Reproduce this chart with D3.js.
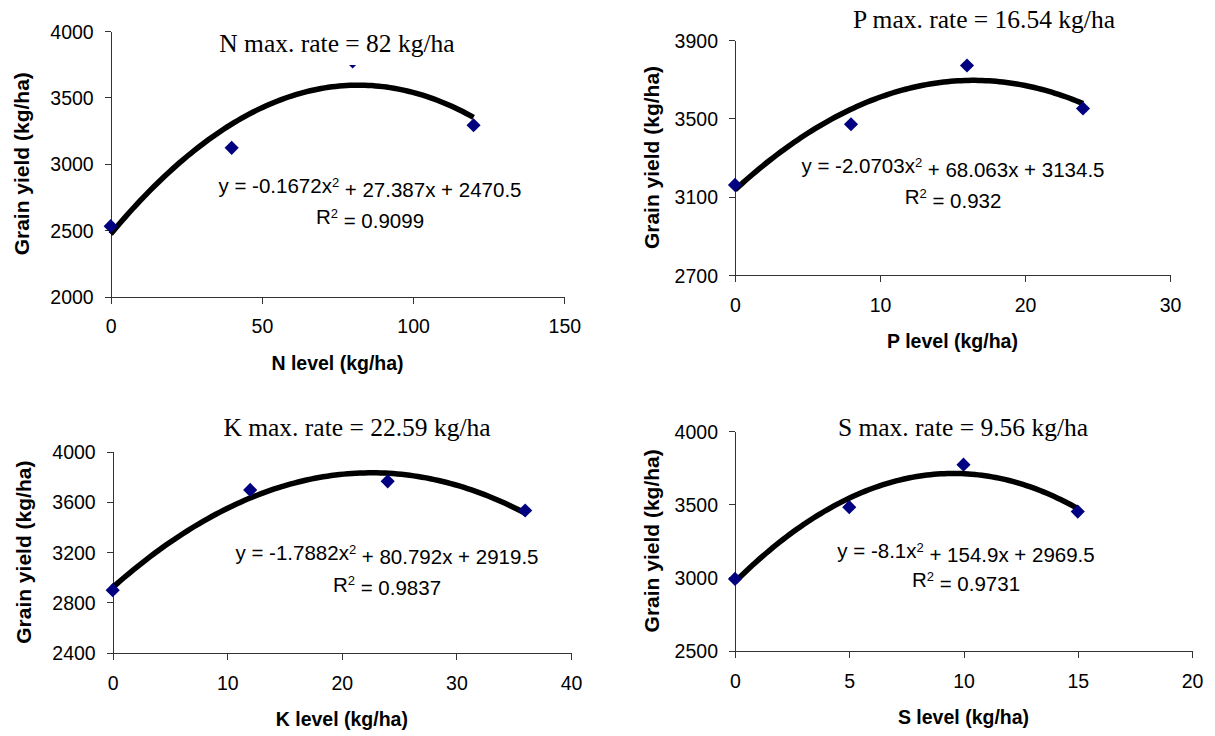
<!DOCTYPE html>
<html>
<head>
<meta charset="utf-8">
<script src="https://cdn.jsdelivr.net/npm/d3@7"></script>
<style>
  body { margin: 0; background: #fff; }
  svg text { fill: #000; }
  .tick text { font-family: "Liberation Sans", Arial, sans-serif; font-size: 19.5px; }
  .domain, .tick line { stroke: #333; stroke-width: 1px; shape-rendering: crispEdges; }
</style>
</head>
<body>
<svg id="chart" width="1215" height="736"></svg>
<script>
// yield response data (kg/ha)
var nLevels = [0, 40, 80, 120];
var nYield = [2530, 3120, 3770, 3290];
var pLevels = [0, 8, 16, 24];
var pYield = [3160, 3470, 3770, 3550];
var kLevels = [0, 12, 24, 36];
var kYield = [2898, 3696, 3764, 3532];
var sLevels = [0, 5, 10, 15];
var sYield = [2990, 3480, 3770, 3450];

// quadratic trendline coefficients [a, b, c] for y = a x^2 + b x + c
var nCoef = [-0.1672, 27.387, 2470.5];
var pCoef = [-2.0703, 68.063, 3134.5];
var kCoef = [-1.7882, 80.792, 2919.5];
var sCoef = [-8.1, 154.9, 2969.5];
var r2Values = ["0.9099", "0.932", "0.9837", "0.9731"];

var titles = ["N max. rate = 82 kg/ha", "P max. rate = 16.54 kg/ha",
              "K max. rate = 22.59 kg/ha", "S max. rate = 9.56 kg/ha"];
var xLabels = ["N level (kg/ha)", "P level (kg/ha)", "K level (kg/ha)", "S level (kg/ha)"];
var yLabel = "Grain yield (kg/ha)";

var nXTicks = [0, 50, 100, 150], nYTicks = [2000, 2500, 3000, 3500, 4000];
var pXTicks = [0, 10, 20, 30], pYTicks = [2700, 3100, 3500, 3900];
var kXTicks = [0, 10, 20, 30, 40], kYTicks = [2400, 2800, 3200, 3600, 4000];
var sXTicks = [0, 5, 10, 15, 20], sYTicks = [2500, 3000, 3500, 4000];

// panel placement on the page
var panels = [
  {x: nLevels, y: nYield, coef: nCoef, xt: nXTicks, yt: nYTicks,
   left: 110.7, right: 564.3, top: 31, bottom: 296.5,
   titleX: 337, titleY: 52, eqX: 370, eqY: 193, r2Y: 224, yOff: 82},
  {x: pLevels, y: pYield, coef: pCoef, xt: pXTicks, yt: pYTicks,
   left: 735, right: 1170, top: 40, bottom: 275,
   titleX: 984, titleY: 28, eqX: 953, eqY: 173, r2Y: 204, yOff: 76},
  {x: kLevels, y: kYield, coef: kCoef, xt: kXTicks, yt: kYTicks,
   left: 112.7, right: 571, top: 451.7, bottom: 652.7,
   titleX: 357, titleY: 436, eqX: 387, eqY: 560, r2Y: 591.5, yOff: 82},
  {x: sLevels, y: sYield, coef: sCoef, xt: sXTicks, yt: sYTicks,
   left: 735, right: 1192, top: 431, bottom: 650.7,
   titleX: 963, titleY: 436, eqX: 966, eqY: 558, r2Y: 587, yOff: 76}
];

var svg = d3.select("#chart");
var sans = '"Liberation Sans", Arial, sans-serif';
var fmt = d3.format("d");

panels.forEach(function(p, i) {
  var x = d3.scaleLinear()
    .domain([p.xt[0], p.xt[p.xt.length - 1]])
    .range([p.left, p.right]);
  var y = d3.scaleLinear()
    .domain([p.yt[0], p.yt[p.yt.length - 1]])
    .range([p.bottom, p.top]);

  var g = svg.append("g");

  g.append("g")
    .attr("transform", "translate(0," + p.bottom + ")")
    .call(d3.axisBottom(x).tickValues(p.xt).tickFormat(fmt)
      .tickSize(7).tickSizeOuter(0).tickPadding(16));

  g.append("g")
    .attr("transform", "translate(" + p.left + ",0)")
    .call(d3.axisLeft(y).tickValues(p.yt).tickFormat(fmt)
      .tickSize(6).tickSizeOuter(0).tickPadding(11))
    .selectAll(".tick text").attr("dy", "0.36em");

  // trendline from the fitted equation
  var xMax = d3.max(p.x);
  var curvePts = d3.range(0, xMax + xMax / 200, xMax / 100).map(function(v) {
    return [v, p.coef[0] * v * v + p.coef[1] * v + p.coef[2]];
  });
  g.append("path")
    .datum(curvePts)
    .attr("fill", "none")
    .attr("stroke", "#000")
    .attr("stroke-width", 5.5)
    .attr("d", d3.line().x(function(d) { return x(d[0]); }).y(function(d) { return y(d[1]); }));

  g.selectAll(".pt")
    .data(p.x)
    .enter().append("path")
    .attr("class", "pt")
    .attr("fill", "#000080")
    .attr("d", d3.symbol(d3.symbolSquare, 100))
    .attr("transform", function(d, j) {
      return "translate(" + x(d) + "," + y(p.y[j]) + ") rotate(45)";
    });

  // title with its white box
  var tbox = g.append("rect").attr("fill", "#fff");
  var title = g.append("text")
    .attr("x", p.titleX)
    .attr("y", p.titleY)
    .attr("text-anchor", "middle")
    .style("font-family", '"Liberation Serif", "Times New Roman", serif')
    .style("font-size", "25.5px")
    .text(titles[i]);
  var bb = title.node().getBBox();
  tbox.attr("x", bb.x - 4).attr("y", bb.y - 2)
    .attr("width", bb.width + 8).attr("height", bb.height + 9);

  // equation + R squared
  var eq = g.append("text")
    .attr("x", p.eqX)
    .attr("y", p.eqY)
    .attr("text-anchor", "middle")
    .style("font-family", sans)
    .style("font-size", "20.5px");
  eq.append("tspan").text("y = " + p.coef[0] + "x");
  eq.append("tspan").attr("dy", "-0.5em").style("font-size", "13px").text("2");
  eq.append("tspan").attr("dy", "0.5em").text(" + " + p.coef[1] + "x + " + p.coef[2]);

  var r2 = g.append("text")
    .attr("x", p.eqX)
    .attr("y", p.r2Y)
    .attr("text-anchor", "middle")
    .style("font-family", sans)
    .style("font-size", "20.5px");
  r2.append("tspan").text("R");
  r2.append("tspan").attr("dy", "-0.5em").style("font-size", "13px").text("2");
  r2.append("tspan").attr("dy", "0.5em").text(" = " + r2Values[i]);

  // axis titles
  g.append("text")
    .attr("x", (p.left + p.right) / 2)
    .attr("y", p.bottom + 73)
    .attr("text-anchor", "middle")
    .style("font-family", sans)
    .style("font-weight", "bold")
    .style("font-size", "19.5px")
    .text(xLabels[i]);

  g.append("text")
    .attr("transform", "translate(" + (p.left - p.yOff) + "," + ((p.top + p.bottom) / 2) + ") rotate(-90)")
    .attr("text-anchor", "middle")
    .style("font-family", sans)
    .style("font-weight", "bold")
    .style("font-size", "21px")
    .text(yLabel);
});
</script>
</body>
</html>
